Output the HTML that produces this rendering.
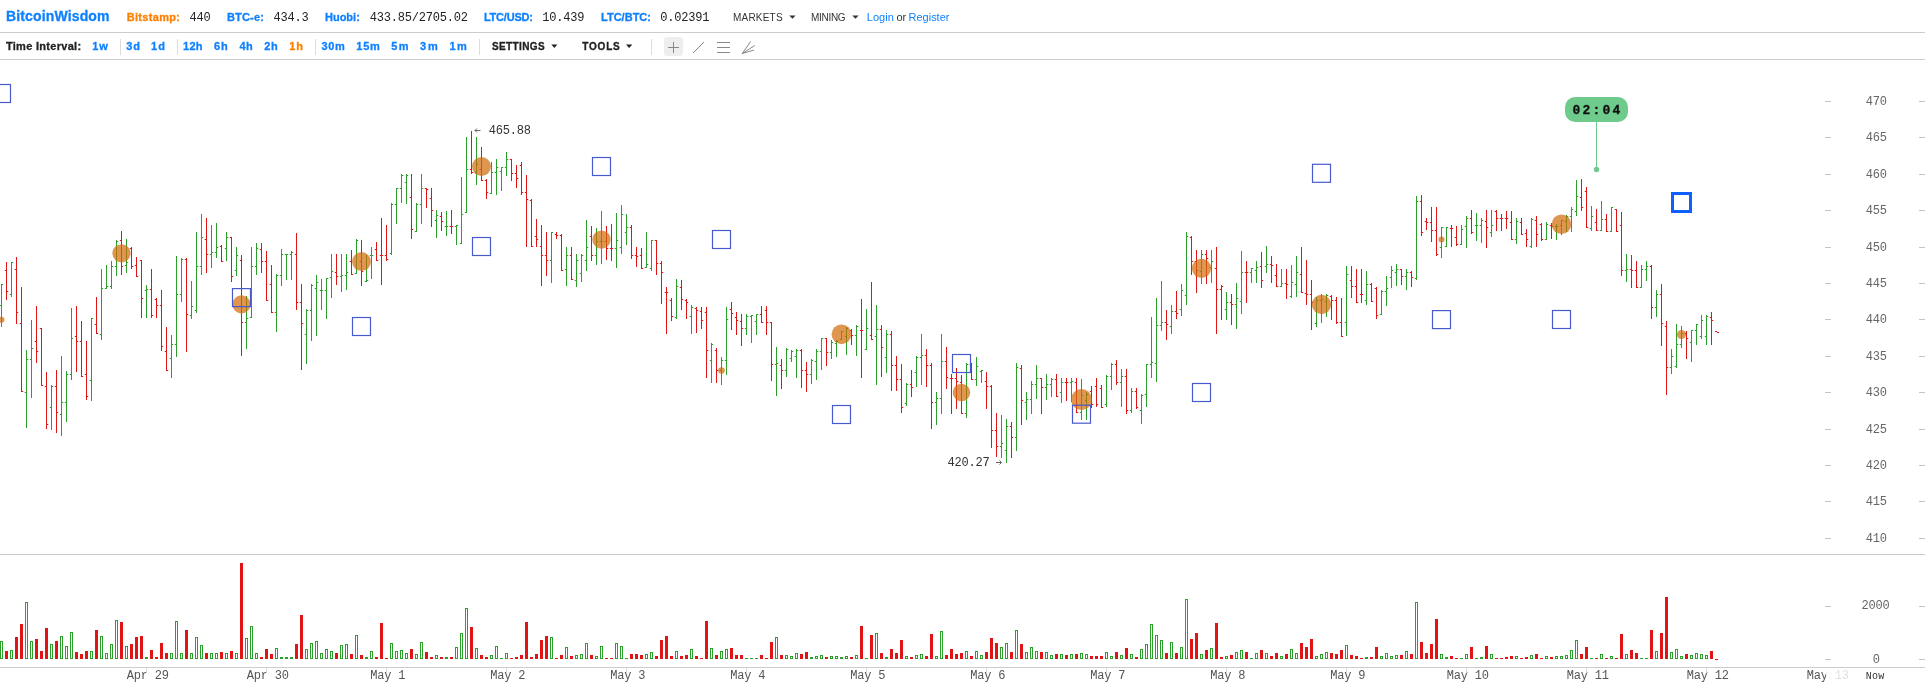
<!DOCTYPE html>
<html><head><meta charset="utf-8"><title>BitcoinWisdom</title>
<style>
html,body{margin:0;padding:0;background:#fff;}
body{width:1925px;height:684px;overflow:hidden;position:relative;font-family:"Liberation Sans",sans-serif;}
svg text{white-space:pre;}
</style></head><body>
<svg width="1925" height="684" viewBox="0 0 1925 684" style="position:absolute;left:0;top:0;display:block;will-change:transform" xml:space="preserve">
<text x="6" y="21" font-size="14" font-family="'Liberation Sans', sans-serif" fill="#0f80ff" font-weight="bold" stroke="#0f80ff" stroke-width="0.3" textLength="103.5" lengthAdjust="spacing">BitcoinWisdom</text>
<text x="126.7" y="21" font-size="11" font-family="'Liberation Sans', sans-serif" fill="#ff8000" font-weight="bold" stroke="#ff8000" stroke-width="0.3" textLength="53.3" lengthAdjust="spacing">Bitstamp:</text>
<text x="189.5" y="21" font-size="12" font-family="'Liberation Mono', monospace" fill="#222" letter-spacing="-0.2">440</text>
<text x="227.0" y="21" font-size="11" font-family="'Liberation Sans', sans-serif" fill="#0f80ff" font-weight="bold" stroke="#0f80ff" stroke-width="0.3" textLength="36.9" lengthAdjust="spacing">BTC-e:</text>
<text x="273.6" y="21" font-size="12" font-family="'Liberation Mono', monospace" fill="#222" letter-spacing="-0.2">434.3</text>
<text x="325.0" y="21" font-size="11" font-family="'Liberation Sans', sans-serif" fill="#0f80ff" font-weight="bold" stroke="#0f80ff" stroke-width="0.3" textLength="34.8" lengthAdjust="spacing">Huobi:</text>
<text x="369.7" y="21" font-size="12" font-family="'Liberation Mono', monospace" fill="#222" letter-spacing="-0.2">433.85/2705.02</text>
<text x="483.9" y="21" font-size="11" font-family="'Liberation Sans', sans-serif" fill="#0f80ff" font-weight="bold" stroke="#0f80ff" stroke-width="0.3" textLength="49.1" lengthAdjust="spacing">LTC/USD:</text>
<text x="542.2" y="21" font-size="12" font-family="'Liberation Mono', monospace" fill="#222" letter-spacing="-0.2">10.439</text>
<text x="601.0" y="21" font-size="11" font-family="'Liberation Sans', sans-serif" fill="#0f80ff" font-weight="bold" stroke="#0f80ff" stroke-width="0.3" textLength="50.0" lengthAdjust="spacing">LTC/BTC:</text>
<text x="660.3" y="21" font-size="12" font-family="'Liberation Mono', monospace" fill="#222" letter-spacing="-0.2">0.02391</text>
<text x="733.0" y="21" font-size="10" font-family="'Liberation Sans', sans-serif" fill="#333" textLength="49.6" lengthAdjust="spacing">MARKETS</text>
<text x="811.0" y="21" font-size="10" font-family="'Liberation Sans', sans-serif" fill="#333" textLength="34.6" lengthAdjust="spacing">MINING</text>
<path d="M789.3,15.5 L795.6,15.5 L792.45,18.8 Z" fill="#333"/>
<path d="M852.3,15.5 L858.6,15.5 L855.45,18.8 Z" fill="#333"/>
<text x="866.8" y="21" font-size="11" font-family="'Liberation Sans', sans-serif" fill="#0f80ff" textLength="27.0" lengthAdjust="spacing">Login</text>
<text x="896.4" y="21" font-size="11" font-family="'Liberation Sans', sans-serif" fill="#333" textLength="9.8" lengthAdjust="spacing">or</text>
<text x="908.6" y="21" font-size="11" font-family="'Liberation Sans', sans-serif" fill="#0f80ff" textLength="40.8" lengthAdjust="spacing">Register</text>
<rect x="0" y="32" width="1925" height="1" fill="#cccccc"/>
<text x="5.9" y="50" font-size="11" font-family="'Liberation Sans', sans-serif" fill="#222" font-weight="bold" stroke="#222" stroke-width="0.3" textLength="75.2" lengthAdjust="spacing">Time Interval:</text>
<text x="92.3" y="50" font-size="11" font-family="'Liberation Sans', sans-serif" fill="#0f80ff" font-weight="bold" stroke="#0f80ff" stroke-width="0.3" textLength="15.5" lengthAdjust="spacing">1w</text>
<text x="126.2" y="50" font-size="11" font-family="'Liberation Sans', sans-serif" fill="#0f80ff" font-weight="bold" stroke="#0f80ff" stroke-width="0.3" textLength="13.7" lengthAdjust="spacing">3d</text>
<text x="151.1" y="50" font-size="11" font-family="'Liberation Sans', sans-serif" fill="#0f80ff" font-weight="bold" stroke="#0f80ff" stroke-width="0.3" textLength="13.8" lengthAdjust="spacing">1d</text>
<text x="182.9" y="50" font-size="11" font-family="'Liberation Sans', sans-serif" fill="#0f80ff" font-weight="bold" stroke="#0f80ff" stroke-width="0.3" textLength="19.7" lengthAdjust="spacing">12h</text>
<text x="214.1" y="50" font-size="11" font-family="'Liberation Sans', sans-serif" fill="#0f80ff" font-weight="bold" stroke="#0f80ff" stroke-width="0.3" textLength="13.7" lengthAdjust="spacing">6h</text>
<text x="239.4" y="50" font-size="11" font-family="'Liberation Sans', sans-serif" fill="#0f80ff" font-weight="bold" stroke="#0f80ff" stroke-width="0.3" textLength="13.4" lengthAdjust="spacing">4h</text>
<text x="264.3" y="50" font-size="11" font-family="'Liberation Sans', sans-serif" fill="#0f80ff" font-weight="bold" stroke="#0f80ff" stroke-width="0.3" textLength="13.4" lengthAdjust="spacing">2h</text>
<text x="289.2" y="50" font-size="11" font-family="'Liberation Sans', sans-serif" fill="#ff8000" font-weight="bold" stroke="#ff8000" stroke-width="0.3" textLength="13.7" lengthAdjust="spacing">1h</text>
<text x="321.4" y="50" font-size="11" font-family="'Liberation Sans', sans-serif" fill="#0f80ff" font-weight="bold" stroke="#0f80ff" stroke-width="0.3" textLength="23.5" lengthAdjust="spacing">30m</text>
<text x="356.3" y="50" font-size="11" font-family="'Liberation Sans', sans-serif" fill="#0f80ff" font-weight="bold" stroke="#0f80ff" stroke-width="0.3" textLength="23.5" lengthAdjust="spacing">15m</text>
<text x="391.2" y="50" font-size="11" font-family="'Liberation Sans', sans-serif" fill="#0f80ff" font-weight="bold" stroke="#0f80ff" stroke-width="0.3" textLength="17.4" lengthAdjust="spacing">5m</text>
<text x="420.1" y="50" font-size="11" font-family="'Liberation Sans', sans-serif" fill="#0f80ff" font-weight="bold" stroke="#0f80ff" stroke-width="0.3" textLength="17.7" lengthAdjust="spacing">3m</text>
<text x="449.4" y="50" font-size="11" font-family="'Liberation Sans', sans-serif" fill="#0f80ff" font-weight="bold" stroke="#0f80ff" stroke-width="0.3" textLength="17.4" lengthAdjust="spacing">1m</text>
<rect x="120" y="39" width="1" height="16" fill="#dddddd"/>
<rect x="177" y="39" width="1" height="16" fill="#dddddd"/>
<rect x="315" y="39" width="1" height="16" fill="#dddddd"/>
<rect x="479" y="39" width="1" height="16" fill="#dddddd"/>
<rect x="651" y="39" width="1" height="16" fill="#dddddd"/>
<text x="492.0" y="50" font-size="10" font-family="'Liberation Sans', sans-serif" fill="#222" font-weight="bold" stroke="#222" stroke-width="0.3" textLength="52.6" lengthAdjust="spacing">SETTINGS</text>
<path d="M551.3,44.6 L557.4,44.6 L554.3499999999999,47.9 Z" fill="#222"/>
<text x="582.3" y="50" font-size="10" font-family="'Liberation Sans', sans-serif" fill="#222" font-weight="bold" stroke="#222" stroke-width="0.3" textLength="37.4" lengthAdjust="spacing">TOOLS</text>
<path d="M626.0,44.6 L632.3,44.6 L629.15,47.9 Z" fill="#222"/>
<rect x="664" y="37" width="19" height="19" rx="3" fill="#eeeeee"/>
<g stroke="#888" stroke-width="1" fill="none"><path d="M668,47.5 H679 M673.5,42 V53"/><path d="M693,53 L704,42"/><path d="M717,42.5 H730 M717,47.5 H730 M717,52.5 H730"/><path d="M742.2,53.6 L750.7,41.4 M742.2,53.6 L754.7,45.5 M742.2,53.6 L754,50"/></g>
<rect x="0" y="59" width="1925" height="1" fill="#cccccc"/>
<rect x="0" y="554" width="1925" height="1" fill="#cccccc"/>
<rect x="0" y="667" width="1925" height="1" fill="#cccccc"/>
<path shape-rendering="crispEdges" fill="#2a9f2a" d="M1,284h1v43h-1z M0,305h1v1h-1z M2,284h1v1h-1z M11,262h1v35h-1z M10,294h1v1h-1z M12,262h1v1h-1z M26,350h1v78h-1z M25,392h1v1h-1z M27,359h1v1h-1z M31,320h1v78h-1z M30,359h1v1h-1z M32,348h1v1h-1z M51,385h1v45h-1z M50,407h1v1h-1z M52,386h1v1h-1z M61,356h1v80h-1z M60,414h1v1h-1z M62,402h1v1h-1z M66,371h1v51h-1z M65,402h1v1h-1z M67,374h1v1h-1z M71,308h1v72h-1z M70,374h1v1h-1z M72,338h1v1h-1z M91,318h1v83h-1z M90,380h1v1h-1z M92,318h1v1h-1z M101,269h1v71h-1z M100,334h1v1h-1z M102,288h1v1h-1z M106,265h1v24h-1z M105,288h1v1h-1z M107,286h1v1h-1z M111,261h1v28h-1z M110,286h1v1h-1z M112,266h1v1h-1z M116,240h1v36h-1z M115,266h1v1h-1z M117,241h1v1h-1z M126,239h1v34h-1z M125,265h1v1h-1z M127,262h1v1h-1z M146,285h1v33h-1z M145,290h1v1h-1z M147,289h1v1h-1z M171,335h1v43h-1z M170,358h1v1h-1z M172,344h1v1h-1z M176,256h1v101h-1z M175,344h1v1h-1z M177,294h1v1h-1z M181,258h1v44h-1z M180,294h1v1h-1z M182,259h1v1h-1z M191,281h1v38h-1z M190,315h1v1h-1z M192,306h1v1h-1z M196,232h1v81h-1z M195,310h1v1h-1z M197,266h1v1h-1z M201,214h1v61h-1z M200,266h1v1h-1z M202,237h1v1h-1z M211,225h1v43h-1z M210,254h1v1h-1z M212,252h1v1h-1z M216,223h1v35h-1z M215,252h1v1h-1z M217,247h1v1h-1z M226,232h1v29h-1z M225,248h1v1h-1z M227,237h1v1h-1z M236,247h1v29h-1z M235,270h1v1h-1z M237,255h1v1h-1z M246,296h1v53h-1z M245,322h1v1h-1z M247,318h1v1h-1z M251,247h1v71h-1z M250,317h1v1h-1z M252,266h1v1h-1z M256,243h1v32h-1z M255,266h1v1h-1z M257,248h1v1h-1z M276,274h1v58h-1z M275,312h1v1h-1z M277,275h1v1h-1z M281,249h1v37h-1z M280,275h1v1h-1z M282,254h1v1h-1z M286,254h1v26h-1z M285,254h1v1h-1z M287,254h1v1h-1z M291,251h1v29h-1z M290,254h1v1h-1z M292,252h1v1h-1z M306,309h1v55h-1z M305,334h1v1h-1z M307,310h1v1h-1z M311,284h1v57h-1z M310,310h1v1h-1z M312,285h1v1h-1z M316,275h1v61h-1z M315,288h1v1h-1z M317,282h1v1h-1z M321,279h1v31h-1z M320,290h1v1h-1z M322,290h1v1h-1z M326,278h1v41h-1z M325,290h1v1h-1z M327,278h1v1h-1z M331,254h1v44h-1z M330,277h1v1h-1z M332,271h1v1h-1z M341,254h1v38h-1z M340,276h1v1h-1z M342,275h1v1h-1z M346,254h1v36h-1z M345,275h1v1h-1z M347,272h1v1h-1z M356,239h1v35h-1z M355,273h1v1h-1z M357,240h1v1h-1z M366,255h1v27h-1z M365,281h1v1h-1z M367,280h1v1h-1z M371,247h1v32h-1z M370,255h1v1h-1z M372,255h1v1h-1z M391,203h1v52h-1z M390,253h1v1h-1z M392,204h1v1h-1z M396,188h1v36h-1z M395,204h1v1h-1z M397,188h1v1h-1z M401,174h1v29h-1z M400,188h1v1h-1z M402,175h1v1h-1z M406,174h1v30h-1z M405,182h1v1h-1z M407,175h1v1h-1z M416,203h1v29h-1z M415,231h1v1h-1z M417,204h1v1h-1z M421,174h1v50h-1z M420,204h1v1h-1z M422,188h1v1h-1z M436,210h1v28h-1z M435,220h1v1h-1z M437,215h1v1h-1z M446,211h1v25h-1z M445,226h1v1h-1z M447,226h1v1h-1z M456,225h1v20h-1z M455,226h1v1h-1z M457,225h1v1h-1z M461,177h1v67h-1z M460,243h1v1h-1z M462,214h1v1h-1z M466,137h1v76h-1z M465,212h1v1h-1z M467,169h1v1h-1z M476,137h1v48h-1z M475,172h1v1h-1z M477,164h1v1h-1z M491,162h1v32h-1z M490,193h1v1h-1z M492,172h1v1h-1z M496,159h1v36h-1z M495,172h1v1h-1z M497,167h1v1h-1z M501,167h1v24h-1z M500,171h1v1h-1z M502,167h1v1h-1z M506,152h1v24h-1z M505,167h1v1h-1z M507,159h1v1h-1z M551,232h1v51h-1z M550,260h1v1h-1z M552,232h1v1h-1z M566,247h1v39h-1z M565,269h1v1h-1z M567,255h1v1h-1z M576,254h1v33h-1z M575,280h1v1h-1z M577,260h1v1h-1z M581,254h1v28h-1z M580,273h1v1h-1z M582,255h1v1h-1z M586,220h1v51h-1z M585,260h1v1h-1z M587,247h1v1h-1z M596,228h1v37h-1z M595,255h1v1h-1z M597,241h1v1h-1z M601,211h1v53h-1z M600,241h1v1h-1z M602,241h1v1h-1z M616,213h1v55h-1z M615,248h1v1h-1z M617,240h1v1h-1z M621,205h1v49h-1z M620,247h1v1h-1z M622,214h1v1h-1z M626,214h1v31h-1z M625,232h1v1h-1z M627,227h1v1h-1z M646,232h1v36h-1z M645,267h1v1h-1z M647,264h1v1h-1z M651,240h1v31h-1z M650,268h1v1h-1z M652,240h1v1h-1z M676,279h1v40h-1z M675,317h1v1h-1z M677,286h1v1h-1z M691,305h1v29h-1z M690,316h1v1h-1z M692,307h1v1h-1z M711,343h1v40h-1z M710,360h1v1h-1z M712,344h1v1h-1z M721,357h1v28h-1z M720,370h1v1h-1z M722,360h1v1h-1z M726,307h1v68h-1z M725,360h1v1h-1z M727,319h1v1h-1z M746,314h1v21h-1z M745,328h1v1h-1z M747,316h1v1h-1z M751,315h1v28h-1z M750,316h1v1h-1z M752,315h1v1h-1z M756,314h1v21h-1z M755,321h1v1h-1z M757,314h1v1h-1z M776,347h1v49h-1z M775,364h1v1h-1z M777,363h1v1h-1z M786,348h1v29h-1z M785,370h1v1h-1z M787,349h1v1h-1z M791,350h1v12h-1z M790,358h1v1h-1z M792,351h1v1h-1z M796,349h1v29h-1z M795,356h1v1h-1z M797,350h1v1h-1z M811,359h1v25h-1z M810,374h1v1h-1z M812,360h1v1h-1z M816,349h1v31h-1z M815,361h1v1h-1z M817,351h1v1h-1z M821,338h1v32h-1z M820,351h1v1h-1z M822,338h1v1h-1z M831,340h1v19h-1z M830,352h1v1h-1z M832,342h1v1h-1z M836,340h1v17h-1z M835,343h1v1h-1z M837,341h1v1h-1z M841,331h1v9h-1z M840,339h1v1h-1z M842,331h1v1h-1z M846,327h1v28h-1z M845,336h1v1h-1z M847,328h1v1h-1z M856,325h1v31h-1z M855,335h1v1h-1z M857,326h1v1h-1z M866,309h1v41h-1z M865,349h1v1h-1z M867,328h1v1h-1z M876,305h1v80h-1z M875,336h1v1h-1z M877,329h1v1h-1z M886,330h1v43h-1z M885,357h1v1h-1z M887,334h1v1h-1z M906,383h1v23h-1z M905,403h1v1h-1z M907,384h1v1h-1z M916,356h1v31h-1z M915,372h1v1h-1z M917,357h1v1h-1z M921,334h1v51h-1z M920,357h1v1h-1z M922,355h1v1h-1z M936,392h1v33h-1z M935,402h1v1h-1z M937,398h1v1h-1z M941,334h1v80h-1z M940,398h1v1h-1z M942,361h1v1h-1z M966,363h1v55h-1z M965,413h1v1h-1z M967,364h1v1h-1z M976,357h1v29h-1z M975,379h1v1h-1z M977,366h1v1h-1z M981,370h1v13h-1z M980,371h1v1h-1z M982,370h1v1h-1z M1001,415h1v43h-1z M1000,446h1v1h-1z M1002,443h1v1h-1z M1006,419h1v44h-1z M1005,450h1v1h-1z M1007,426h1v1h-1z M1016,363h1v88h-1z M1015,437h1v1h-1z M1017,367h1v1h-1z M1026,392h1v28h-1z M1025,402h1v1h-1z M1027,399h1v1h-1z M1031,381h1v33h-1z M1030,399h1v1h-1z M1032,384h1v1h-1z M1036,365h1v34h-1z M1035,384h1v1h-1z M1037,378h1v1h-1z M1046,374h1v26h-1z M1045,387h1v1h-1z M1047,384h1v1h-1z M1051,378h1v19h-1z M1050,384h1v1h-1z M1052,379h1v1h-1z M1061,378h1v25h-1z M1060,392h1v1h-1z M1062,382h1v1h-1z M1071,378h1v24h-1z M1070,382h1v1h-1z M1072,381h1v1h-1z M1081,379h1v41h-1z M1080,412h1v1h-1z M1082,395h1v1h-1z M1086,392h1v28h-1z M1085,400h1v1h-1z M1087,394h1v1h-1z M1106,375h1v32h-1z M1105,404h1v1h-1z M1107,376h1v1h-1z M1111,363h1v27h-1z M1110,376h1v1h-1z M1112,364h1v1h-1z M1121,369h1v38h-1z M1120,382h1v1h-1z M1122,376h1v1h-1z M1131,388h1v25h-1z M1130,410h1v1h-1z M1132,391h1v1h-1z M1141,394h1v30h-1z M1140,410h1v1h-1z M1142,395h1v1h-1z M1146,364h1v43h-1z M1145,394h1v1h-1z M1147,364h1v1h-1z M1151,317h1v61h-1z M1150,364h1v1h-1z M1152,362h1v1h-1z M1156,298h1v84h-1z M1155,363h1v1h-1z M1157,325h1v1h-1z M1161,281h1v50h-1z M1160,325h1v1h-1z M1162,322h1v1h-1z M1171,305h1v29h-1z M1170,326h1v1h-1z M1172,311h1v1h-1z M1181,284h1v32h-1z M1180,309h1v1h-1z M1182,290h1v1h-1z M1186,232h1v73h-1z M1185,295h1v1h-1z M1187,236h1v1h-1z M1201,250h1v34h-1z M1200,271h1v1h-1z M1202,254h1v1h-1z M1211,250h1v33h-1z M1210,267h1v1h-1z M1212,261h1v1h-1z M1226,292h1v28h-1z M1225,309h1v1h-1z M1227,302h1v1h-1z M1236,283h1v46h-1z M1235,304h1v1h-1z M1237,298h1v1h-1z M1241,251h1v63h-1z M1240,301h1v1h-1z M1242,272h1v1h-1z M1251,268h1v15h-1z M1250,272h1v1h-1z M1252,268h1v1h-1z M1256,261h1v22h-1z M1255,270h1v1h-1z M1257,267h1v1h-1z M1266,246h1v27h-1z M1265,266h1v1h-1z M1267,264h1v1h-1z M1281,269h1v18h-1z M1280,286h1v1h-1z M1282,283h1v1h-1z M1291,265h1v33h-1z M1290,296h1v1h-1z M1292,282h1v1h-1z M1296,256h1v41h-1z M1295,284h1v1h-1z M1297,272h1v1h-1z M1316,297h1v30h-1z M1315,323h1v1h-1z M1317,300h1v1h-1z M1321,294h1v29h-1z M1320,300h1v1h-1z M1322,299h1v1h-1z M1326,294h1v23h-1z M1325,301h1v1h-1z M1327,295h1v1h-1z M1346,266h1v70h-1z M1345,322h1v1h-1z M1347,274h1v1h-1z M1366,271h1v34h-1z M1365,300h1v1h-1z M1367,284h1v1h-1z M1381,290h1v25h-1z M1380,314h1v1h-1z M1382,291h1v1h-1z M1386,276h1v30h-1z M1385,291h1v1h-1z M1387,288h1v1h-1z M1391,266h1v22h-1z M1390,277h1v1h-1z M1392,270h1v1h-1z M1396,264h1v22h-1z M1395,272h1v1h-1z M1397,269h1v1h-1z M1406,269h1v21h-1z M1405,276h1v1h-1z M1407,272h1v1h-1z M1416,196h1v84h-1z M1415,278h1v1h-1z M1417,201h1v1h-1z M1441,227h1v31h-1z M1440,247h1v1h-1z M1442,227h1v1h-1z M1446,227h1v20h-1z M1445,246h1v1h-1z M1447,227h1v1h-1z M1461,225h1v20h-1z M1460,244h1v1h-1z M1462,229h1v1h-1z M1466,216h1v32h-1z M1465,226h1v1h-1z M1467,218h1v1h-1z M1476,213h1v28h-1z M1475,225h1v1h-1z M1477,225h1v1h-1z M1481,218h1v25h-1z M1480,225h1v1h-1z M1482,220h1v1h-1z M1491,210h1v27h-1z M1490,232h1v1h-1z M1492,225h1v1h-1z M1516,218h1v26h-1z M1515,239h1v1h-1z M1517,221h1v1h-1z M1531,218h1v30h-1z M1530,246h1v1h-1z M1532,219h1v1h-1z M1546,222h1v18h-1z M1545,239h1v1h-1z M1547,224h1v1h-1z M1556,224h1v16h-1z M1555,226h1v1h-1z M1557,226h1v1h-1z M1561,220h1v15h-1z M1560,225h1v1h-1z M1562,220h1v1h-1z M1566,215h1v17h-1z M1565,221h1v1h-1z M1567,216h1v1h-1z M1571,207h1v25h-1z M1570,216h1v1h-1z M1572,209h1v1h-1z M1576,180h1v36h-1z M1575,211h1v1h-1z M1577,196h1v1h-1z M1591,206h1v25h-1z M1590,228h1v1h-1z M1592,216h1v1h-1z M1601,201h1v30h-1z M1600,230h1v1h-1z M1602,219h1v1h-1z M1611,207h1v25h-1z M1610,231h1v1h-1z M1612,207h1v1h-1z M1626,254h1v28h-1z M1625,270h1v1h-1z M1627,269h1v1h-1z M1641,265h1v23h-1z M1640,287h1v1h-1z M1642,269h1v1h-1z M1646,261h1v20h-1z M1645,269h1v1h-1z M1647,266h1v1h-1z M1656,290h1v27h-1z M1655,307h1v1h-1z M1657,294h1v1h-1z M1671,349h1v25h-1z M1670,367h1v1h-1z M1672,356h1v1h-1z M1676,324h1v44h-1z M1675,366h1v1h-1z M1677,344h1v1h-1z M1681,326h1v22h-1z M1680,344h1v1h-1z M1682,333h1v1h-1z M1691,330h1v32h-1z M1690,342h1v1h-1z M1692,330h1v1h-1z M1696,324h1v21h-1z M1695,330h1v1h-1z M1697,324h1v1h-1z M1701,315h1v24h-1z M1700,336h1v1h-1z M1702,320h1v1h-1z M1706,315h1v30h-1z M1705,336h1v1h-1z M1707,316h1v1h-1z"/>
<path shape-rendering="crispEdges" fill="#2a9f2a" fill-opacity="0.22" d="M-1,305h1v1h-1z M3,284h1v1h-1z M9,294h1v1h-1z M13,262h1v1h-1z M24,392h1v1h-1z M28,359h1v1h-1z M29,359h1v1h-1z M33,348h1v1h-1z M49,407h1v1h-1z M53,386h1v1h-1z M59,414h1v1h-1z M63,402h1v1h-1z M64,402h1v1h-1z M68,374h1v1h-1z M69,374h1v1h-1z M73,338h1v1h-1z M89,380h1v1h-1z M93,318h1v1h-1z M99,334h1v1h-1z M103,288h1v1h-1z M104,288h1v1h-1z M108,286h1v1h-1z M109,286h1v1h-1z M113,266h1v1h-1z M114,266h1v1h-1z M118,241h1v1h-1z M124,265h1v1h-1z M128,262h1v1h-1z M144,290h1v1h-1z M148,289h1v1h-1z M169,358h1v1h-1z M173,344h1v1h-1z M174,344h1v1h-1z M178,294h1v1h-1z M179,294h1v1h-1z M183,259h1v1h-1z M189,315h1v1h-1z M193,306h1v1h-1z M194,310h1v1h-1z M198,266h1v1h-1z M199,266h1v1h-1z M203,237h1v1h-1z M209,254h1v1h-1z M213,252h1v1h-1z M214,252h1v1h-1z M218,247h1v1h-1z M224,248h1v1h-1z M228,237h1v1h-1z M234,270h1v1h-1z M238,255h1v1h-1z M244,322h1v1h-1z M248,318h1v1h-1z M249,317h1v1h-1z M253,266h1v1h-1z M254,266h1v1h-1z M258,248h1v1h-1z M274,312h1v1h-1z M278,275h1v1h-1z M279,275h1v1h-1z M283,254h1v1h-1z M284,254h1v1h-1z M288,254h1v1h-1z M289,254h1v1h-1z M293,252h1v1h-1z M304,334h1v1h-1z M308,310h1v1h-1z M309,310h1v1h-1z M313,285h1v1h-1z M314,288h1v1h-1z M318,282h1v1h-1z M319,290h1v1h-1z M323,290h1v1h-1z M324,290h1v1h-1z M328,278h1v1h-1z M329,277h1v1h-1z M333,271h1v1h-1z M339,276h1v1h-1z M343,275h1v1h-1z M344,275h1v1h-1z M348,272h1v1h-1z M354,273h1v1h-1z M358,240h1v1h-1z M364,281h1v1h-1z M368,280h1v1h-1z M369,255h1v1h-1z M373,255h1v1h-1z M389,253h1v1h-1z M393,204h1v1h-1z M394,204h1v1h-1z M398,188h1v1h-1z M399,188h1v1h-1z M403,175h1v1h-1z M404,182h1v1h-1z M408,175h1v1h-1z M414,231h1v1h-1z M418,204h1v1h-1z M419,204h1v1h-1z M423,188h1v1h-1z M434,220h1v1h-1z M438,215h1v1h-1z M444,226h1v1h-1z M448,226h1v1h-1z M454,226h1v1h-1z M458,225h1v1h-1z M459,243h1v1h-1z M463,214h1v1h-1z M464,212h1v1h-1z M468,169h1v1h-1z M474,172h1v1h-1z M478,164h1v1h-1z M489,193h1v1h-1z M493,172h1v1h-1z M494,172h1v1h-1z M498,167h1v1h-1z M499,171h1v1h-1z M503,167h1v1h-1z M504,167h1v1h-1z M508,159h1v1h-1z M549,260h1v1h-1z M553,232h1v1h-1z M564,269h1v1h-1z M568,255h1v1h-1z M574,280h1v1h-1z M578,260h1v1h-1z M579,273h1v1h-1z M583,255h1v1h-1z M584,260h1v1h-1z M588,247h1v1h-1z M594,255h1v1h-1z M598,241h1v1h-1z M599,241h1v1h-1z M603,241h1v1h-1z M614,248h1v1h-1z M618,240h1v1h-1z M619,247h1v1h-1z M623,214h1v1h-1z M624,232h1v1h-1z M628,227h1v1h-1z M644,267h1v1h-1z M648,264h1v1h-1z M649,268h1v1h-1z M653,240h1v1h-1z M674,317h1v1h-1z M678,286h1v1h-1z M689,316h1v1h-1z M693,307h1v1h-1z M709,360h1v1h-1z M713,344h1v1h-1z M719,370h1v1h-1z M723,360h1v1h-1z M724,360h1v1h-1z M728,319h1v1h-1z M744,328h1v1h-1z M748,316h1v1h-1z M749,316h1v1h-1z M753,315h1v1h-1z M754,321h1v1h-1z M758,314h1v1h-1z M774,364h1v1h-1z M778,363h1v1h-1z M784,370h1v1h-1z M788,349h1v1h-1z M789,358h1v1h-1z M793,351h1v1h-1z M794,356h1v1h-1z M798,350h1v1h-1z M809,374h1v1h-1z M813,360h1v1h-1z M814,361h1v1h-1z M818,351h1v1h-1z M819,351h1v1h-1z M823,338h1v1h-1z M829,352h1v1h-1z M833,342h1v1h-1z M834,343h1v1h-1z M838,341h1v1h-1z M839,339h1v1h-1z M843,331h1v1h-1z M844,336h1v1h-1z M848,328h1v1h-1z M854,335h1v1h-1z M858,326h1v1h-1z M864,349h1v1h-1z M868,328h1v1h-1z M874,336h1v1h-1z M878,329h1v1h-1z M884,357h1v1h-1z M888,334h1v1h-1z M904,403h1v1h-1z M908,384h1v1h-1z M914,372h1v1h-1z M918,357h1v1h-1z M919,357h1v1h-1z M923,355h1v1h-1z M934,402h1v1h-1z M938,398h1v1h-1z M939,398h1v1h-1z M943,361h1v1h-1z M964,413h1v1h-1z M968,364h1v1h-1z M974,379h1v1h-1z M978,366h1v1h-1z M979,371h1v1h-1z M983,370h1v1h-1z M999,446h1v1h-1z M1003,443h1v1h-1z M1004,450h1v1h-1z M1008,426h1v1h-1z M1014,437h1v1h-1z M1018,367h1v1h-1z M1024,402h1v1h-1z M1028,399h1v1h-1z M1029,399h1v1h-1z M1033,384h1v1h-1z M1034,384h1v1h-1z M1038,378h1v1h-1z M1044,387h1v1h-1z M1048,384h1v1h-1z M1049,384h1v1h-1z M1053,379h1v1h-1z M1059,392h1v1h-1z M1063,382h1v1h-1z M1069,382h1v1h-1z M1073,381h1v1h-1z M1079,412h1v1h-1z M1083,395h1v1h-1z M1084,400h1v1h-1z M1088,394h1v1h-1z M1104,404h1v1h-1z M1108,376h1v1h-1z M1109,376h1v1h-1z M1113,364h1v1h-1z M1119,382h1v1h-1z M1123,376h1v1h-1z M1129,410h1v1h-1z M1133,391h1v1h-1z M1139,410h1v1h-1z M1143,395h1v1h-1z M1144,394h1v1h-1z M1148,364h1v1h-1z M1149,364h1v1h-1z M1153,362h1v1h-1z M1154,363h1v1h-1z M1158,325h1v1h-1z M1159,325h1v1h-1z M1163,322h1v1h-1z M1169,326h1v1h-1z M1173,311h1v1h-1z M1179,309h1v1h-1z M1183,290h1v1h-1z M1184,295h1v1h-1z M1188,236h1v1h-1z M1199,271h1v1h-1z M1203,254h1v1h-1z M1209,267h1v1h-1z M1213,261h1v1h-1z M1224,309h1v1h-1z M1228,302h1v1h-1z M1234,304h1v1h-1z M1238,298h1v1h-1z M1239,301h1v1h-1z M1243,272h1v1h-1z M1249,272h1v1h-1z M1253,268h1v1h-1z M1254,270h1v1h-1z M1258,267h1v1h-1z M1264,266h1v1h-1z M1268,264h1v1h-1z M1279,286h1v1h-1z M1283,283h1v1h-1z M1289,296h1v1h-1z M1293,282h1v1h-1z M1294,284h1v1h-1z M1298,272h1v1h-1z M1314,323h1v1h-1z M1318,300h1v1h-1z M1319,300h1v1h-1z M1323,299h1v1h-1z M1324,301h1v1h-1z M1328,295h1v1h-1z M1344,322h1v1h-1z M1348,274h1v1h-1z M1364,300h1v1h-1z M1368,284h1v1h-1z M1379,314h1v1h-1z M1383,291h1v1h-1z M1384,291h1v1h-1z M1388,288h1v1h-1z M1389,277h1v1h-1z M1393,270h1v1h-1z M1394,272h1v1h-1z M1398,269h1v1h-1z M1404,276h1v1h-1z M1408,272h1v1h-1z M1414,278h1v1h-1z M1418,201h1v1h-1z M1439,247h1v1h-1z M1443,227h1v1h-1z M1444,246h1v1h-1z M1448,227h1v1h-1z M1459,244h1v1h-1z M1463,229h1v1h-1z M1464,226h1v1h-1z M1468,218h1v1h-1z M1474,225h1v1h-1z M1478,225h1v1h-1z M1479,225h1v1h-1z M1483,220h1v1h-1z M1489,232h1v1h-1z M1493,225h1v1h-1z M1514,239h1v1h-1z M1518,221h1v1h-1z M1529,246h1v1h-1z M1533,219h1v1h-1z M1544,239h1v1h-1z M1548,224h1v1h-1z M1554,226h1v1h-1z M1558,226h1v1h-1z M1559,225h1v1h-1z M1563,220h1v1h-1z M1564,221h1v1h-1z M1568,216h1v1h-1z M1569,216h1v1h-1z M1573,209h1v1h-1z M1574,211h1v1h-1z M1578,196h1v1h-1z M1589,228h1v1h-1z M1593,216h1v1h-1z M1599,230h1v1h-1z M1603,219h1v1h-1z M1609,231h1v1h-1z M1613,207h1v1h-1z M1624,270h1v1h-1z M1628,269h1v1h-1z M1639,287h1v1h-1z M1643,269h1v1h-1z M1644,269h1v1h-1z M1648,266h1v1h-1z M1654,307h1v1h-1z M1658,294h1v1h-1z M1669,367h1v1h-1z M1673,356h1v1h-1z M1674,366h1v1h-1z M1678,344h1v1h-1z M1679,344h1v1h-1z M1683,333h1v1h-1z M1689,342h1v1h-1z M1693,330h1v1h-1z M1694,330h1v1h-1z M1698,324h1v1h-1z M1699,336h1v1h-1z M1703,320h1v1h-1z M1704,336h1v1h-1z M1708,316h1v1h-1z"/>
<path shape-rendering="crispEdges" fill="#e01414" d="M6,262h1v38h-1z M5,270h1v1h-1z M7,291h1v1h-1z M16,257h1v67h-1z M15,269h1v1h-1z M17,312h1v1h-1z M21,287h1v105h-1z M20,323h1v1h-1z M22,391h1v1h-1z M36,306h1v57h-1z M35,341h1v1h-1z M37,351h1v1h-1z M41,328h1v58h-1z M40,328h1v1h-1z M42,385h1v1h-1z M46,372h1v57h-1z M45,386h1v1h-1z M47,424h1v1h-1z M56,370h1v63h-1z M55,386h1v1h-1z M57,412h1v1h-1z M76,306h1v66h-1z M75,336h1v1h-1z M77,341h1v1h-1z M81,321h1v56h-1z M80,341h1v1h-1z M82,376h1v1h-1z M86,341h1v59h-1z M85,374h1v1h-1z M87,396h1v1h-1z M96,297h1v37h-1z M95,324h1v1h-1z M97,333h1v1h-1z M121,231h1v44h-1z M120,240h1v1h-1z M122,266h1v1h-1z M131,247h1v22h-1z M130,248h1v1h-1z M132,266h1v1h-1z M136,257h1v20h-1z M135,265h1v1h-1z M137,276h1v1h-1z M141,260h1v58h-1z M140,260h1v1h-1z M142,298h1v1h-1z M151,269h1v49h-1z M150,289h1v1h-1z M152,315h1v1h-1z M156,298h1v20h-1z M155,299h1v1h-1z M157,305h1v1h-1z M161,290h1v61h-1z M160,305h1v1h-1z M162,346h1v1h-1z M166,327h1v44h-1z M165,351h1v1h-1z M167,370h1v1h-1z M186,258h1v94h-1z M185,259h1v1h-1z M187,314h1v1h-1z M206,218h1v55h-1z M205,239h1v1h-1z M207,254h1v1h-1z M221,245h1v17h-1z M220,246h1v1h-1z M222,261h1v1h-1z M231,237h1v45h-1z M230,237h1v1h-1z M232,276h1v1h-1z M241,255h1v101h-1z M240,260h1v1h-1z M242,322h1v1h-1z M261,243h1v30h-1z M260,249h1v1h-1z M262,261h1v1h-1z M266,251h1v50h-1z M265,261h1v1h-1z M267,300h1v1h-1z M271,265h1v48h-1z M270,284h1v1h-1z M272,312h1v1h-1z M296,233h1v77h-1z M295,254h1v1h-1z M297,302h1v1h-1z M301,284h1v86h-1z M300,302h1v1h-1z M302,323h1v1h-1z M336,254h1v31h-1z M335,272h1v1h-1z M337,276h1v1h-1z M351,250h1v25h-1z M350,261h1v1h-1z M352,274h1v1h-1z M361,240h1v46h-1z M360,261h1v1h-1z M362,271h1v1h-1z M376,242h1v19h-1z M375,249h1v1h-1z M377,260h1v1h-1z M381,218h1v67h-1z M380,255h1v1h-1z M382,255h1v1h-1z M386,225h1v36h-1z M385,255h1v1h-1z M387,259h1v1h-1z M411,174h1v65h-1z M410,197h1v1h-1z M412,229h1v1h-1z M426,188h1v20h-1z M425,188h1v1h-1z M427,189h1v1h-1z M431,188h1v39h-1z M430,198h1v1h-1z M432,210h1v1h-1z M441,212h1v19h-1z M440,216h1v1h-1z M442,221h1v1h-1z M451,210h1v24h-1z M450,226h1v1h-1z M452,226h1v1h-1z M471,131h1v43h-1z M470,169h1v1h-1z M472,172h1v1h-1z M481,147h1v34h-1z M480,169h1v1h-1z M482,180h1v1h-1z M486,179h1v20h-1z M485,180h1v1h-1z M487,192h1v1h-1z M511,159h1v22h-1z M510,159h1v1h-1z M512,173h1v1h-1z M516,165h1v23h-1z M515,173h1v1h-1z M517,178h1v1h-1z M521,162h1v33h-1z M520,165h1v1h-1z M522,192h1v1h-1z M526,175h1v72h-1z M525,192h1v1h-1z M527,199h1v1h-1z M531,199h1v48h-1z M530,200h1v1h-1z M532,246h1v1h-1z M536,219h1v28h-1z M535,236h1v1h-1z M537,239h1v1h-1z M541,225h1v61h-1z M540,246h1v1h-1z M542,255h1v1h-1z M546,232h1v44h-1z M545,255h1v1h-1z M547,260h1v1h-1z M556,232h1v7h-1z M555,234h1v1h-1z M557,235h1v1h-1z M561,234h1v37h-1z M560,235h1v1h-1z M562,270h1v1h-1z M571,247h1v33h-1z M570,255h1v1h-1z M572,279h1v1h-1z M591,226h1v35h-1z M590,236h1v1h-1z M592,255h1v1h-1z M606,226h1v34h-1z M605,241h1v1h-1z M607,248h1v1h-1z M611,224h1v37h-1z M610,248h1v1h-1z M612,248h1v1h-1z M631,225h1v34h-1z M630,227h1v1h-1z M632,255h1v1h-1z M636,247h1v20h-1z M635,255h1v1h-1z M637,256h1v1h-1z M641,248h1v21h-1z M640,255h1v1h-1z M642,268h1v1h-1z M656,240h1v35h-1z M655,240h1v1h-1z M657,263h1v1h-1z M661,261h1v43h-1z M660,263h1v1h-1z M662,272h1v1h-1z M666,287h1v47h-1z M665,292h1v1h-1z M667,292h1v1h-1z M671,298h1v23h-1z M670,300h1v1h-1z M672,316h1v1h-1z M681,280h1v30h-1z M680,287h1v1h-1z M682,299h1v1h-1z M686,299h1v20h-1z M685,300h1v1h-1z M687,302h1v1h-1z M696,307h1v26h-1z M695,308h1v1h-1z M697,310h1v1h-1z M701,307h1v22h-1z M700,311h1v1h-1z M702,320h1v1h-1z M706,307h1v71h-1z M705,312h1v1h-1z M707,350h1v1h-1z M716,348h1v35h-1z M715,350h1v1h-1z M717,370h1v1h-1z M731,302h1v28h-1z M730,309h1v1h-1z M732,313h1v1h-1z M736,312h1v23h-1z M735,317h1v1h-1z M737,320h1v1h-1z M741,314h1v32h-1z M740,321h1v1h-1z M742,328h1v1h-1z M761,306h1v17h-1z M760,314h1v1h-1z M762,322h1v1h-1z M766,306h1v29h-1z M765,310h1v1h-1z M767,322h1v1h-1z M771,322h1v59h-1z M770,322h1v1h-1z M772,364h1v1h-1z M781,359h1v30h-1z M780,365h1v1h-1z M782,370h1v1h-1z M801,349h1v39h-1z M800,350h1v1h-1z M802,370h1v1h-1z M806,362h1v30h-1z M805,370h1v1h-1z M807,374h1v1h-1z M826,338h1v28h-1z M825,338h1v1h-1z M827,352h1v1h-1z M851,329h1v16h-1z M850,330h1v1h-1z M852,335h1v1h-1z M861,299h1v79h-1z M860,330h1v1h-1z M862,330h1v1h-1z M871,282h1v58h-1z M870,335h1v1h-1z M872,339h1v1h-1z M881,325h1v52h-1z M880,329h1v1h-1z M882,347h1v1h-1z M891,331h1v60h-1z M890,334h1v1h-1z M892,365h1v1h-1z M896,356h1v35h-1z M895,365h1v1h-1z M897,379h1v1h-1z M901,364h1v49h-1z M900,379h1v1h-1z M902,407h1v1h-1z M911,370h1v27h-1z M910,384h1v1h-1z M912,387h1v1h-1z M926,349h1v38h-1z M925,355h1v1h-1z M927,365h1v1h-1z M931,363h1v66h-1z M930,365h1v1h-1z M932,402h1v1h-1z M946,347h1v42h-1z M945,361h1v1h-1z M947,377h1v1h-1z M951,374h1v40h-1z M950,378h1v1h-1z M952,378h1v1h-1z M956,368h1v41h-1z M955,378h1v1h-1z M957,381h1v1h-1z M961,375h1v39h-1z M960,382h1v1h-1z M962,413h1v1h-1z M971,363h1v17h-1z M970,364h1v1h-1z M972,379h1v1h-1z M986,372h1v37h-1z M985,381h1v1h-1z M987,386h1v1h-1z M991,385h1v63h-1z M990,386h1v1h-1z M992,430h1v1h-1z M996,413h1v44h-1z M995,430h1v1h-1z M997,446h1v1h-1z M1011,422h1v36h-1z M1010,426h1v1h-1z M1012,437h1v1h-1z M1021,365h1v60h-1z M1020,368h1v1h-1z M1022,400h1v1h-1z M1041,378h1v36h-1z M1040,378h1v1h-1z M1042,387h1v1h-1z M1056,374h1v23h-1z M1055,379h1v1h-1z M1057,396h1v1h-1z M1066,378h1v23h-1z M1065,382h1v1h-1z M1067,382h1v1h-1z M1076,378h1v35h-1z M1075,382h1v1h-1z M1077,412h1v1h-1z M1091,386h1v22h-1z M1090,391h1v1h-1z M1092,404h1v1h-1z M1096,378h1v29h-1z M1095,386h1v1h-1z M1097,404h1v1h-1z M1101,385h1v23h-1z M1100,388h1v1h-1z M1102,407h1v1h-1z M1116,360h1v25h-1z M1115,364h1v1h-1z M1117,382h1v1h-1z M1126,369h1v45h-1z M1125,376h1v1h-1z M1127,410h1v1h-1z M1136,388h1v21h-1z M1135,391h1v1h-1z M1137,407h1v1h-1z M1166,310h1v30h-1z M1165,322h1v1h-1z M1167,324h1v1h-1z M1176,291h1v28h-1z M1175,311h1v1h-1z M1177,313h1v1h-1z M1191,236h1v39h-1z M1190,237h1v1h-1z M1192,261h1v1h-1z M1196,250h1v43h-1z M1195,261h1v1h-1z M1197,270h1v1h-1z M1206,250h1v34h-1z M1205,254h1v1h-1z M1207,258h1v1h-1z M1216,247h1v87h-1z M1215,268h1v1h-1z M1217,289h1v1h-1z M1221,285h1v35h-1z M1220,289h1v1h-1z M1222,286h1v1h-1z M1231,294h1v31h-1z M1230,302h1v1h-1z M1232,304h1v1h-1z M1246,261h1v42h-1z M1245,272h1v1h-1z M1247,272h1v1h-1z M1261,252h1v36h-1z M1260,266h1v1h-1z M1262,280h1v1h-1z M1271,256h1v27h-1z M1270,264h1v1h-1z M1272,265h1v1h-1z M1276,264h1v23h-1z M1275,275h1v1h-1z M1277,286h1v1h-1z M1286,269h1v30h-1z M1285,283h1v1h-1z M1287,284h1v1h-1z M1301,247h1v46h-1z M1300,274h1v1h-1z M1302,292h1v1h-1z M1306,260h1v45h-1z M1305,293h1v1h-1z M1307,294h1v1h-1z M1311,280h1v50h-1z M1310,294h1v1h-1z M1312,302h1v1h-1z M1331,295h1v25h-1z M1330,296h1v1h-1z M1332,300h1v1h-1z M1336,297h1v27h-1z M1335,300h1v1h-1z M1337,322h1v1h-1z M1341,298h1v39h-1z M1340,322h1v1h-1z M1342,336h1v1h-1z M1351,266h1v32h-1z M1350,280h1v1h-1z M1352,286h1v1h-1z M1356,269h1v34h-1z M1355,286h1v1h-1z M1357,302h1v1h-1z M1361,269h1v34h-1z M1360,294h1v1h-1z M1362,294h1v1h-1z M1371,283h1v19h-1z M1370,284h1v1h-1z M1372,301h1v1h-1z M1376,287h1v32h-1z M1375,288h1v1h-1z M1377,315h1v1h-1z M1401,269h1v16h-1z M1400,269h1v1h-1z M1402,276h1v1h-1z M1411,271h1v16h-1z M1410,272h1v1h-1z M1412,277h1v1h-1z M1421,195h1v41h-1z M1420,201h1v1h-1z M1422,232h1v1h-1z M1426,218h1v12h-1z M1425,221h1v1h-1z M1427,222h1v1h-1z M1431,207h1v35h-1z M1430,222h1v1h-1z M1432,230h1v1h-1z M1436,207h1v49h-1z M1435,230h1v1h-1z M1437,254h1v1h-1z M1451,225h1v22h-1z M1450,228h1v1h-1z M1452,228h1v1h-1z M1456,226h1v20h-1z M1455,237h1v1h-1z M1457,244h1v1h-1z M1471,210h1v24h-1z M1470,218h1v1h-1z M1472,232h1v1h-1z M1486,210h1v38h-1z M1485,221h1v1h-1z M1487,227h1v1h-1z M1496,210h1v21h-1z M1495,211h1v1h-1z M1497,218h1v1h-1z M1501,214h1v17h-1z M1500,218h1v1h-1z M1502,218h1v1h-1z M1506,211h1v18h-1z M1505,218h1v1h-1z M1507,218h1v1h-1z M1511,211h1v29h-1z M1510,222h1v1h-1z M1512,239h1v1h-1z M1521,218h1v17h-1z M1520,222h1v1h-1z M1522,234h1v1h-1z M1526,229h1v18h-1z M1525,233h1v1h-1z M1527,239h1v1h-1z M1536,216h1v31h-1z M1535,220h1v1h-1z M1537,234h1v1h-1z M1541,223h1v18h-1z M1540,224h1v1h-1z M1542,239h1v1h-1z M1551,223h1v16h-1z M1550,225h1v1h-1z M1552,226h1v1h-1z M1581,179h1v32h-1z M1580,197h1v1h-1z M1582,207h1v1h-1z M1586,187h1v41h-1z M1585,191h1v1h-1z M1587,227h1v1h-1z M1596,209h1v22h-1z M1595,222h1v1h-1z M1597,230h1v1h-1z M1606,214h1v18h-1z M1605,219h1v1h-1z M1607,231h1v1h-1z M1616,209h1v23h-1z M1615,209h1v1h-1z M1617,231h1v1h-1z M1621,212h1v64h-1z M1620,225h1v1h-1z M1622,270h1v1h-1z M1631,255h1v33h-1z M1630,269h1v1h-1z M1632,270h1v1h-1z M1636,261h1v27h-1z M1635,270h1v1h-1z M1637,287h1v1h-1z M1651,265h1v54h-1z M1650,266h1v1h-1z M1652,307h1v1h-1z M1661,284h1v62h-1z M1660,294h1v1h-1z M1662,323h1v1h-1z M1666,321h1v74h-1z M1665,326h1v1h-1z M1667,367h1v1h-1z M1686,331h1v28h-1z M1685,333h1v1h-1z M1687,338h1v1h-1z M1711,312h1v33h-1z M1710,317h1v1h-1z M1712,320h1v1h-1z M1715,331h2v1h-2z M1717,332h2v1h-2z"/>
<path shape-rendering="crispEdges" fill="#e01414" fill-opacity="0.22" d="M4,270h1v1h-1z M8,291h1v1h-1z M14,269h1v1h-1z M18,312h1v1h-1z M19,323h1v1h-1z M23,391h1v1h-1z M34,341h1v1h-1z M38,351h1v1h-1z M39,328h1v1h-1z M43,385h1v1h-1z M44,386h1v1h-1z M48,424h1v1h-1z M54,386h1v1h-1z M58,412h1v1h-1z M74,336h1v1h-1z M78,341h1v1h-1z M79,341h1v1h-1z M83,376h1v1h-1z M84,374h1v1h-1z M88,396h1v1h-1z M94,324h1v1h-1z M98,333h1v1h-1z M119,240h1v1h-1z M123,266h1v1h-1z M129,248h1v1h-1z M133,266h1v1h-1z M134,265h1v1h-1z M138,276h1v1h-1z M139,260h1v1h-1z M143,298h1v1h-1z M149,289h1v1h-1z M153,315h1v1h-1z M154,299h1v1h-1z M158,305h1v1h-1z M159,305h1v1h-1z M163,346h1v1h-1z M164,351h1v1h-1z M168,370h1v1h-1z M184,259h1v1h-1z M188,314h1v1h-1z M204,239h1v1h-1z M208,254h1v1h-1z M219,246h1v1h-1z M223,261h1v1h-1z M229,237h1v1h-1z M233,276h1v1h-1z M239,260h1v1h-1z M243,322h1v1h-1z M259,249h1v1h-1z M263,261h1v1h-1z M264,261h1v1h-1z M268,300h1v1h-1z M269,284h1v1h-1z M273,312h1v1h-1z M294,254h1v1h-1z M298,302h1v1h-1z M299,302h1v1h-1z M303,323h1v1h-1z M334,272h1v1h-1z M338,276h1v1h-1z M349,261h1v1h-1z M353,274h1v1h-1z M359,261h1v1h-1z M363,271h1v1h-1z M374,249h1v1h-1z M378,260h1v1h-1z M379,255h1v1h-1z M383,255h1v1h-1z M384,255h1v1h-1z M388,259h1v1h-1z M409,197h1v1h-1z M413,229h1v1h-1z M424,188h1v1h-1z M428,189h1v1h-1z M429,198h1v1h-1z M433,210h1v1h-1z M439,216h1v1h-1z M443,221h1v1h-1z M449,226h1v1h-1z M453,226h1v1h-1z M469,169h1v1h-1z M473,172h1v1h-1z M479,169h1v1h-1z M483,180h1v1h-1z M484,180h1v1h-1z M488,192h1v1h-1z M509,159h1v1h-1z M513,173h1v1h-1z M514,173h1v1h-1z M518,178h1v1h-1z M519,165h1v1h-1z M523,192h1v1h-1z M524,192h1v1h-1z M528,199h1v1h-1z M529,200h1v1h-1z M533,246h1v1h-1z M534,236h1v1h-1z M538,239h1v1h-1z M539,246h1v1h-1z M543,255h1v1h-1z M544,255h1v1h-1z M548,260h1v1h-1z M554,234h1v1h-1z M558,235h1v1h-1z M559,235h1v1h-1z M563,270h1v1h-1z M569,255h1v1h-1z M573,279h1v1h-1z M589,236h1v1h-1z M593,255h1v1h-1z M604,241h1v1h-1z M608,248h1v1h-1z M609,248h1v1h-1z M613,248h1v1h-1z M629,227h1v1h-1z M633,255h1v1h-1z M634,255h1v1h-1z M638,256h1v1h-1z M639,255h1v1h-1z M643,268h1v1h-1z M654,240h1v1h-1z M658,263h1v1h-1z M659,263h1v1h-1z M663,272h1v1h-1z M664,292h1v1h-1z M668,292h1v1h-1z M669,300h1v1h-1z M673,316h1v1h-1z M679,287h1v1h-1z M683,299h1v1h-1z M684,300h1v1h-1z M688,302h1v1h-1z M694,308h1v1h-1z M698,310h1v1h-1z M699,311h1v1h-1z M703,320h1v1h-1z M704,312h1v1h-1z M708,350h1v1h-1z M714,350h1v1h-1z M718,370h1v1h-1z M729,309h1v1h-1z M733,313h1v1h-1z M734,317h1v1h-1z M738,320h1v1h-1z M739,321h1v1h-1z M743,328h1v1h-1z M759,314h1v1h-1z M763,322h1v1h-1z M764,310h1v1h-1z M768,322h1v1h-1z M769,322h1v1h-1z M773,364h1v1h-1z M779,365h1v1h-1z M783,370h1v1h-1z M799,350h1v1h-1z M803,370h1v1h-1z M804,370h1v1h-1z M808,374h1v1h-1z M824,338h1v1h-1z M828,352h1v1h-1z M849,330h1v1h-1z M853,335h1v1h-1z M859,330h1v1h-1z M863,330h1v1h-1z M869,335h1v1h-1z M873,339h1v1h-1z M879,329h1v1h-1z M883,347h1v1h-1z M889,334h1v1h-1z M893,365h1v1h-1z M894,365h1v1h-1z M898,379h1v1h-1z M899,379h1v1h-1z M903,407h1v1h-1z M909,384h1v1h-1z M913,387h1v1h-1z M924,355h1v1h-1z M928,365h1v1h-1z M929,365h1v1h-1z M933,402h1v1h-1z M944,361h1v1h-1z M948,377h1v1h-1z M949,378h1v1h-1z M953,378h1v1h-1z M954,378h1v1h-1z M958,381h1v1h-1z M959,382h1v1h-1z M963,413h1v1h-1z M969,364h1v1h-1z M973,379h1v1h-1z M984,381h1v1h-1z M988,386h1v1h-1z M989,386h1v1h-1z M993,430h1v1h-1z M994,430h1v1h-1z M998,446h1v1h-1z M1009,426h1v1h-1z M1013,437h1v1h-1z M1019,368h1v1h-1z M1023,400h1v1h-1z M1039,378h1v1h-1z M1043,387h1v1h-1z M1054,379h1v1h-1z M1058,396h1v1h-1z M1064,382h1v1h-1z M1068,382h1v1h-1z M1074,382h1v1h-1z M1078,412h1v1h-1z M1089,391h1v1h-1z M1093,404h1v1h-1z M1094,386h1v1h-1z M1098,404h1v1h-1z M1099,388h1v1h-1z M1103,407h1v1h-1z M1114,364h1v1h-1z M1118,382h1v1h-1z M1124,376h1v1h-1z M1128,410h1v1h-1z M1134,391h1v1h-1z M1138,407h1v1h-1z M1164,322h1v1h-1z M1168,324h1v1h-1z M1174,311h1v1h-1z M1178,313h1v1h-1z M1189,237h1v1h-1z M1193,261h1v1h-1z M1194,261h1v1h-1z M1198,270h1v1h-1z M1204,254h1v1h-1z M1208,258h1v1h-1z M1214,268h1v1h-1z M1218,289h1v1h-1z M1219,289h1v1h-1z M1223,286h1v1h-1z M1229,302h1v1h-1z M1233,304h1v1h-1z M1244,272h1v1h-1z M1248,272h1v1h-1z M1259,266h1v1h-1z M1263,280h1v1h-1z M1269,264h1v1h-1z M1273,265h1v1h-1z M1274,275h1v1h-1z M1278,286h1v1h-1z M1284,283h1v1h-1z M1288,284h1v1h-1z M1299,274h1v1h-1z M1303,292h1v1h-1z M1304,293h1v1h-1z M1308,294h1v1h-1z M1309,294h1v1h-1z M1313,302h1v1h-1z M1329,296h1v1h-1z M1333,300h1v1h-1z M1334,300h1v1h-1z M1338,322h1v1h-1z M1339,322h1v1h-1z M1343,336h1v1h-1z M1349,280h1v1h-1z M1353,286h1v1h-1z M1354,286h1v1h-1z M1358,302h1v1h-1z M1359,294h1v1h-1z M1363,294h1v1h-1z M1369,284h1v1h-1z M1373,301h1v1h-1z M1374,288h1v1h-1z M1378,315h1v1h-1z M1399,269h1v1h-1z M1403,276h1v1h-1z M1409,272h1v1h-1z M1413,277h1v1h-1z M1419,201h1v1h-1z M1423,232h1v1h-1z M1424,221h1v1h-1z M1428,222h1v1h-1z M1429,222h1v1h-1z M1433,230h1v1h-1z M1434,230h1v1h-1z M1438,254h1v1h-1z M1449,228h1v1h-1z M1453,228h1v1h-1z M1454,237h1v1h-1z M1458,244h1v1h-1z M1469,218h1v1h-1z M1473,232h1v1h-1z M1484,221h1v1h-1z M1488,227h1v1h-1z M1494,211h1v1h-1z M1498,218h1v1h-1z M1499,218h1v1h-1z M1503,218h1v1h-1z M1504,218h1v1h-1z M1508,218h1v1h-1z M1509,222h1v1h-1z M1513,239h1v1h-1z M1519,222h1v1h-1z M1523,234h1v1h-1z M1524,233h1v1h-1z M1528,239h1v1h-1z M1534,220h1v1h-1z M1538,234h1v1h-1z M1539,224h1v1h-1z M1543,239h1v1h-1z M1549,225h1v1h-1z M1553,226h1v1h-1z M1579,197h1v1h-1z M1583,207h1v1h-1z M1584,191h1v1h-1z M1588,227h1v1h-1z M1594,222h1v1h-1z M1598,230h1v1h-1z M1604,219h1v1h-1z M1608,231h1v1h-1z M1614,209h1v1h-1z M1618,231h1v1h-1z M1619,225h1v1h-1z M1623,270h1v1h-1z M1629,269h1v1h-1z M1633,270h1v1h-1z M1634,270h1v1h-1z M1638,287h1v1h-1z M1649,266h1v1h-1z M1653,307h1v1h-1z M1659,294h1v1h-1z M1663,323h1v1h-1z M1664,326h1v1h-1z M1668,367h1v1h-1z M1684,333h1v1h-1z M1688,338h1v1h-1z M1709,317h1v1h-1z M1713,320h1v1h-1z"/>
<path shape-rendering="crispEdges" fill="#e01414" d="M5,651h3v8h-3z M15,637h3v22h-3z M20,624h3v35h-3z M35,639h3v20h-3z M40,651h3v8h-3z M45,628h3v31h-3z M55,641h3v18h-3z M75,652h3v7h-3z M80,654h3v5h-3z M85,651h3v8h-3z M95,630h3v29h-3z M120,622h3v37h-3z M130,644h3v15h-3z M135,637h3v22h-3z M140,636h3v23h-3z M150,650h3v9h-3z M155,657h3v2h-3z M160,643h3v16h-3z M165,653h3v6h-3z M185,630h3v29h-3z M205,653h3v6h-3z M220,652h3v7h-3z M230,651h3v8h-3z M240,563h3v96h-3z M260,657h3v2h-3z M265,649h3v10h-3z M270,654h3v5h-3z M295,644h3v15h-3z M300,615h3v44h-3z M335,653h3v6h-3z M350,654h3v5h-3z M360,655h3v4h-3z M375,657h3v2h-3z M380,623h3v36h-3z M385,658h3v1h-3z M410,649h3v10h-3z M425,652h3v7h-3z M430,657h3v2h-3z M440,657h3v2h-3z M450,657h3v2h-3z M470,627h3v32h-3z M480,655h3v4h-3z M485,657h3v2h-3z M510,658h3v1h-3z M515,657h3v2h-3z M520,655h3v4h-3z M525,622h3v37h-3z M530,657h3v2h-3z M535,654h3v5h-3z M540,640h3v19h-3z M545,636h3v23h-3z M555,658h3v1h-3z M560,655h3v4h-3z M570,656h3v3h-3z M590,655h3v4h-3z M605,658h3v1h-3z M610,658h3v1h-3z M630,654h3v5h-3z M635,654h3v5h-3z M640,655h3v4h-3z M655,656h3v3h-3z M660,640h3v19h-3z M665,636h3v23h-3z M670,656h3v3h-3z M680,656h3v3h-3z M685,655h3v4h-3z M695,656h3v3h-3z M700,658h3v1h-3z M705,621h3v38h-3z M715,655h3v4h-3z M730,648h3v11h-3z M735,655h3v4h-3z M740,655h3v4h-3z M760,655h3v4h-3z M765,658h3v1h-3z M770,642h3v17h-3z M780,655h3v4h-3z M800,654h3v5h-3z M805,652h3v7h-3z M825,657h3v2h-3z M850,657h3v2h-3z M860,626h3v33h-3z M870,635h3v24h-3z M880,653h3v6h-3z M890,649h3v10h-3z M895,653h3v6h-3z M900,640h3v19h-3z M910,657h3v2h-3z M925,656h3v3h-3z M930,634h3v25h-3z M945,655h3v4h-3z M950,649h3v10h-3z M955,654h3v5h-3z M960,653h3v6h-3z M970,656h3v3h-3z M985,652h3v7h-3z M990,638h3v21h-3z M995,643h3v16h-3z M1010,652h3v7h-3z M1020,644h3v15h-3z M1040,652h3v7h-3z M1055,654h3v5h-3z M1065,655h3v4h-3z M1075,654h3v5h-3z M1090,656h3v3h-3z M1095,656h3v3h-3z M1100,656h3v3h-3z M1115,652h3v7h-3z M1125,648h3v11h-3z M1135,657h3v2h-3z M1165,653h3v6h-3z M1175,653h3v6h-3z M1190,639h3v20h-3z M1195,633h3v26h-3z M1205,650h3v9h-3z M1215,623h3v36h-3z M1220,657h3v2h-3z M1230,655h3v4h-3z M1245,652h3v7h-3z M1260,650h3v9h-3z M1270,656h3v3h-3z M1275,653h3v6h-3z M1285,654h3v5h-3z M1300,643h3v16h-3z M1305,647h3v12h-3z M1310,639h3v20h-3z M1330,653h3v6h-3z M1335,654h3v5h-3z M1340,650h3v9h-3z M1350,655h3v4h-3z M1355,656h3v3h-3z M1360,658h3v1h-3z M1370,657h3v2h-3z M1375,647h3v12h-3z M1400,655h3v4h-3z M1410,654h3v5h-3z M1420,642h3v17h-3z M1425,653h3v6h-3z M1430,644h3v15h-3z M1435,619h3v40h-3z M1450,656h3v3h-3z M1455,658h3v1h-3z M1470,647h3v12h-3z M1485,646h3v13h-3z M1495,658h3v1h-3z M1500,658h3v1h-3z M1505,657h3v2h-3z M1510,656h3v3h-3z M1520,658h3v1h-3z M1525,657h3v2h-3z M1535,654h3v5h-3z M1540,658h3v1h-3z M1550,657h3v2h-3z M1580,654h3v5h-3z M1585,647h3v12h-3z M1595,658h3v1h-3z M1605,658h3v1h-3z M1615,658h3v1h-3z M1620,634h3v25h-3z M1630,650h3v9h-3z M1635,653h3v6h-3z M1650,630h3v29h-3z M1660,633h3v26h-3z M1665,597h3v62h-3z M1685,654h3v5h-3z M1710,651h3v8h-3z M1715,659h3v1h-3z"/>
<path shape-rendering="crispEdges" fill="#2a9f2a" fill-rule="evenodd" d="M0,641h3v18h-3z M1,642v16h1v-16z M10,650h3v9h-3z M11,651v7h1v-7z M25,602h3v57h-3z M26,603v55h1v-55z M30,641h3v18h-3z M31,642v16h1v-16z M50,644h3v15h-3z M51,645v13h1v-13z M60,636h3v23h-3z M61,637v21h1v-21z M65,646h3v13h-3z M66,647v11h1v-11z M70,632h3v27h-3z M71,633v25h1v-25z M90,651h3v8h-3z M91,652v6h1v-6z M100,636h3v23h-3z M101,637v21h1v-21z M105,653h3v6h-3z M106,654v4h1v-4z M110,644h3v15h-3z M111,645v13h1v-13z M115,620h3v39h-3z M116,621v37h1v-37z M125,646h3v13h-3z M126,647v11h1v-11z M145,657h3v2h-3z M170,653h3v6h-3z M171,654v4h1v-4z M175,621h3v38h-3z M176,622v36h1v-36z M180,653h3v6h-3z M181,654v4h1v-4z M190,653h3v6h-3z M191,654v4h1v-4z M195,637h3v22h-3z M196,638v20h1v-20z M200,645h3v14h-3z M201,646v12h1v-12z M210,653h3v6h-3z M211,654v4h1v-4z M215,653h3v6h-3z M216,654v4h1v-4z M225,653h3v6h-3z M226,654v4h1v-4z M235,653h3v6h-3z M236,654v4h1v-4z M245,638h3v21h-3z M246,639v19h1v-19z M250,626h3v33h-3z M251,627v31h1v-31z M255,653h3v6h-3z M256,654v4h1v-4z M275,648h3v11h-3z M276,649v9h1v-9z M280,657h3v2h-3z M285,657h3v2h-3z M290,657h3v2h-3z M305,649h3v10h-3z M306,650v8h1v-8z M310,643h3v16h-3z M311,644v14h1v-14z M315,641h3v18h-3z M316,642v16h1v-16z M320,653h3v6h-3z M321,654v4h1v-4z M325,649h3v10h-3z M326,650v8h1v-8z M330,651h3v8h-3z M331,652v6h1v-6z M340,645h3v14h-3z M341,646v12h1v-12z M345,644h3v15h-3z M346,645v13h1v-13z M355,635h3v24h-3z M356,636v22h1v-22z M365,657h3v2h-3z M370,651h3v8h-3z M371,652v6h1v-6z M390,643h3v16h-3z M391,644v14h1v-14z M395,651h3v8h-3z M396,652v6h1v-6z M400,650h3v9h-3z M401,651v7h1v-7z M405,653h3v6h-3z M406,654v4h1v-4z M415,654h3v5h-3z M416,655v3h1v-3z M420,642h3v17h-3z M421,643v15h1v-15z M435,655h3v4h-3z M436,656v2h1v-2z M445,657h3v2h-3z M455,647h3v12h-3z M456,648v10h1v-10z M460,633h3v26h-3z M461,634v24h1v-24z M465,608h3v51h-3z M466,609v49h1v-49z M475,648h3v11h-3z M476,649v9h1v-9z M490,655h3v4h-3z M491,656v2h1v-2z M495,646h3v13h-3z M496,647v11h1v-11z M500,658h3v1h-3z M505,653h3v6h-3z M506,654v4h1v-4z M550,637h3v22h-3z M551,638v20h1v-20z M565,647h3v12h-3z M566,648v10h1v-10z M575,655h3v4h-3z M576,656v2h1v-2z M580,654h3v5h-3z M581,655v3h1v-3z M585,643h3v16h-3z M586,644v14h1v-14z M595,656h3v3h-3z M596,657v1h1v-1z M600,646h3v13h-3z M601,647v11h1v-11z M615,643h3v16h-3z M616,644v14h1v-14z M620,646h3v13h-3z M621,647v11h1v-11z M625,658h3v1h-3z M645,654h3v5h-3z M646,655v3h1v-3z M650,652h3v7h-3z M651,653v5h1v-5z M675,651h3v8h-3z M676,652v6h1v-6z M690,649h3v10h-3z M691,650v8h1v-8z M710,648h3v11h-3z M711,649v9h1v-9z M720,651h3v8h-3z M721,652v6h1v-6z M725,649h3v10h-3z M726,650v8h1v-8z M745,658h3v1h-3z M750,658h3v1h-3z M755,658h3v1h-3z M775,637h3v22h-3z M776,638v20h1v-20z M785,655h3v4h-3z M786,656v2h1v-2z M790,656h3v3h-3z M791,657v1h1v-1z M795,653h3v6h-3z M796,654v4h1v-4z M810,657h3v2h-3z M815,656h3v3h-3z M816,657v1h1v-1z M820,655h3v4h-3z M821,656v2h1v-2z M830,656h3v3h-3z M831,657v1h1v-1z M835,656h3v3h-3z M836,657v1h1v-1z M840,657h3v2h-3z M845,656h3v3h-3z M846,657v1h1v-1z M855,655h3v4h-3z M856,656v2h1v-2z M865,658h3v1h-3z M875,633h3v26h-3z M876,634v24h1v-24z M885,657h3v2h-3z M905,656h3v3h-3z M906,657v1h1v-1z M915,655h3v4h-3z M916,656v2h1v-2z M920,654h3v5h-3z M921,655v3h1v-3z M935,656h3v3h-3z M936,657v1h1v-1z M940,631h3v28h-3z M941,632v26h1v-26z M965,651h3v8h-3z M966,652v6h1v-6z M975,651h3v8h-3z M976,652v6h1v-6z M980,655h3v4h-3z M981,656v2h1v-2z M1000,647h3v12h-3z M1001,648v10h1v-10z M1005,643h3v16h-3z M1006,644v14h1v-14z M1015,630h3v29h-3z M1016,631v27h1v-27z M1025,652h3v7h-3z M1026,653v5h1v-5z M1030,647h3v12h-3z M1031,648v10h1v-10z M1035,651h3v8h-3z M1036,652v6h1v-6z M1045,652h3v7h-3z M1046,653v5h1v-5z M1050,655h3v4h-3z M1051,656v2h1v-2z M1060,654h3v5h-3z M1061,655v3h1v-3z M1070,654h3v5h-3z M1071,655v3h1v-3z M1080,653h3v6h-3z M1081,654v4h1v-4z M1085,654h3v5h-3z M1086,655v3h1v-3z M1105,652h3v7h-3z M1106,653v5h1v-5z M1110,656h3v3h-3z M1111,657v1h1v-1z M1120,655h3v4h-3z M1121,656v2h1v-2z M1130,654h3v5h-3z M1131,655v3h1v-3z M1140,649h3v10h-3z M1141,650v8h1v-8z M1145,644h3v15h-3z M1146,645v13h1v-13z M1150,624h3v35h-3z M1151,625v33h1v-33z M1155,635h3v24h-3z M1156,636v22h1v-22z M1160,640h3v19h-3z M1161,641v17h1v-17z M1170,642h3v17h-3z M1171,643v15h1v-15z M1180,647h3v12h-3z M1181,648v10h1v-10z M1185,599h3v60h-3z M1186,600v58h1v-58z M1200,654h3v5h-3z M1201,655v3h1v-3z M1210,648h3v11h-3z M1211,649v9h1v-9z M1225,656h3v3h-3z M1226,657v1h1v-1z M1235,652h3v7h-3z M1236,653v5h1v-5z M1240,650h3v9h-3z M1241,651v7h1v-7z M1250,658h3v1h-3z M1255,653h3v6h-3z M1256,654v4h1v-4z M1265,653h3v6h-3z M1266,654v4h1v-4z M1280,656h3v3h-3z M1281,657v1h1v-1z M1290,649h3v10h-3z M1291,650v8h1v-8z M1295,653h3v6h-3z M1296,654v4h1v-4z M1315,656h3v3h-3z M1316,657v1h1v-1z M1320,654h3v5h-3z M1321,655v3h1v-3z M1325,652h3v7h-3z M1326,653v5h1v-5z M1345,645h3v14h-3z M1346,646v12h1v-12z M1365,657h3v2h-3z M1380,656h3v3h-3z M1381,657v1h1v-1z M1385,653h3v6h-3z M1386,654v4h1v-4z M1390,656h3v3h-3z M1391,657v1h1v-1z M1395,655h3v4h-3z M1396,656v2h1v-2z M1405,651h3v8h-3z M1406,652v6h1v-6z M1415,602h3v57h-3z M1416,603v55h1v-55z M1440,654h3v5h-3z M1441,655v3h1v-3z M1445,657h3v2h-3z M1460,658h3v1h-3z M1465,654h3v5h-3z M1466,655v3h1v-3z M1475,658h3v1h-3z M1480,657h3v2h-3z M1490,654h3v5h-3z M1491,655v3h1v-3z M1515,656h3v3h-3z M1516,657v1h1v-1z M1530,655h3v4h-3z M1531,656v2h1v-2z M1545,656h3v3h-3z M1546,657v1h1v-1z M1555,656h3v3h-3z M1556,657v1h1v-1z M1560,656h3v3h-3z M1561,657v1h1v-1z M1565,655h3v4h-3z M1566,656v2h1v-2z M1570,650h3v9h-3z M1571,651v7h1v-7z M1575,640h3v19h-3z M1576,641v17h1v-17z M1590,658h3v1h-3z M1600,654h3v5h-3z M1601,655v3h1v-3z M1610,656h3v3h-3z M1611,657v1h1v-1z M1625,654h3v5h-3z M1626,655v3h1v-3z M1640,658h3v1h-3z M1645,658h3v1h-3z M1655,651h3v8h-3z M1656,652v6h1v-6z M1670,652h3v7h-3z M1671,653v5h1v-5z M1675,649h3v10h-3z M1676,650v8h1v-8z M1680,656h3v3h-3z M1681,657v1h1v-1z M1690,655h3v4h-3z M1691,656v2h1v-2z M1695,653h3v6h-3z M1696,654v4h1v-4z M1700,654h3v5h-3z M1701,655v3h1v-3z M1705,655h3v4h-3z M1706,656v2h1v-2z"/>
<circle cx="1.5" cy="319.7" r="3.0" fill="rgb(208,105,5)" fill-opacity="0.7"/>
<circle cx="121.5" cy="253.3" r="9.1" fill="rgb(208,105,5)" fill-opacity="0.7"/>
<circle cx="241.5" cy="304.4" r="9.1" fill="rgb(208,105,5)" fill-opacity="0.7"/>
<circle cx="361.5" cy="261.6" r="9.5" fill="rgb(208,105,5)" fill-opacity="0.7"/>
<circle cx="481.5" cy="166.5" r="9.5" fill="rgb(208,105,5)" fill-opacity="0.7"/>
<circle cx="601.5" cy="239.6" r="9.2" fill="rgb(208,105,5)" fill-opacity="0.7"/>
<circle cx="721.5" cy="370.6" r="3.3" fill="rgb(208,105,5)" fill-opacity="0.7"/>
<circle cx="841.5" cy="334.3" r="9.9" fill="rgb(208,105,5)" fill-opacity="0.7"/>
<circle cx="961.5" cy="392.5" r="8.7" fill="rgb(208,105,5)" fill-opacity="0.7"/>
<circle cx="1081.5" cy="399.5" r="10.5" fill="rgb(208,105,5)" fill-opacity="0.7"/>
<circle cx="1201.5" cy="268.4" r="9.6" fill="rgb(208,105,5)" fill-opacity="0.7"/>
<circle cx="1321.5" cy="304.5" r="9.7" fill="rgb(208,105,5)" fill-opacity="0.7"/>
<circle cx="1441.5" cy="239.5" r="3.0" fill="rgb(208,105,5)" fill-opacity="0.7"/>
<circle cx="1561.5" cy="224.3" r="9.8" fill="rgb(208,105,5)" fill-opacity="0.7"/>
<circle cx="1681.5" cy="334.5" r="4.6" fill="rgb(208,105,5)" fill-opacity="0.7"/>
<rect x="-7.5" y="84.5" width="18" height="18" fill="none" stroke="#465acd" stroke-width="1.2"/>
<rect x="232.5" y="288.6" width="18" height="18" fill="none" stroke="#465acd" stroke-width="1.2"/>
<rect x="352.5" y="317.5" width="18" height="18" fill="none" stroke="#465acd" stroke-width="1.2"/>
<rect x="472.5" y="237.5" width="18" height="18" fill="none" stroke="#465acd" stroke-width="1.2"/>
<rect x="592.5" y="157.5" width="18" height="18" fill="none" stroke="#465acd" stroke-width="1.2"/>
<rect x="712.5" y="230.5" width="18" height="18" fill="none" stroke="#465acd" stroke-width="1.2"/>
<rect x="832.5" y="405.5" width="18" height="18" fill="none" stroke="#465acd" stroke-width="1.2"/>
<rect x="952.5" y="354.5" width="18" height="18" fill="none" stroke="#465acd" stroke-width="1.2"/>
<rect x="1072.5" y="405.2" width="18" height="18" fill="none" stroke="#465acd" stroke-width="1.2"/>
<rect x="1192.5" y="383.5" width="18" height="18" fill="none" stroke="#465acd" stroke-width="1.2"/>
<rect x="1312.5" y="164.3" width="18" height="18" fill="none" stroke="#465acd" stroke-width="1.2"/>
<rect x="1432.5" y="310.6" width="18" height="18" fill="none" stroke="#465acd" stroke-width="1.2"/>
<rect x="1552.5" y="310.5" width="18" height="18" fill="none" stroke="#465acd" stroke-width="1.2"/>
<rect x="1672.5" y="193.5" width="18" height="18" fill="none" stroke="#0f5fff" stroke-width="3"/>
<text x="488.8" y="134" font-size="12" font-family="'Liberation Mono', monospace" fill="#333" letter-spacing="-0.2">465.88</text>
<path d="M480.5,130.5 H475 M477,128.5 L475,130.5 L477,132.5" stroke="#666" stroke-width="1" fill="none"/>
<text x="947.6" y="466" font-size="12" font-family="'Liberation Mono', monospace" fill="#333" letter-spacing="-0.2">420.27</text>
<path d="M996,462.5 H1001.5 M999.5,460.5 L1001.5,462.5 L999.5,464.5" stroke="#666" stroke-width="1" fill="none"/>
<rect x="1565" y="97" width="63" height="25" rx="10" fill="#6ecb8c"/>
<rect x="1596" y="121" width="1" height="48" fill="#6ecb8c"/>
<circle cx="1596.5" cy="169.5" r="2.7" fill="#6ecb8c"/>
<text x="1597.6" y="114" font-size="13" font-family="'Liberation Mono', monospace" fill="#111" font-weight="bold" stroke="#111" stroke-width="0.3" letter-spacing="2.2" text-anchor="middle">02:04</text>
<text x="147.8" y="679" font-size="12" font-family="'Liberation Mono', monospace" fill="#555" letter-spacing="-0.2" text-anchor="middle">Apr 29</text>
<rect x="146" y="668" width="1" height="5" fill="#dddddd"/>
<text x="267.8" y="679" font-size="12" font-family="'Liberation Mono', monospace" fill="#555" letter-spacing="-0.2" text-anchor="middle">Apr 30</text>
<rect x="266" y="668" width="1" height="5" fill="#dddddd"/>
<text x="387.8" y="679" font-size="12" font-family="'Liberation Mono', monospace" fill="#555" letter-spacing="-0.2" text-anchor="middle">May 1</text>
<rect x="386" y="668" width="1" height="5" fill="#dddddd"/>
<text x="507.8" y="679" font-size="12" font-family="'Liberation Mono', monospace" fill="#555" letter-spacing="-0.2" text-anchor="middle">May 2</text>
<rect x="506" y="668" width="1" height="5" fill="#dddddd"/>
<text x="627.8" y="679" font-size="12" font-family="'Liberation Mono', monospace" fill="#555" letter-spacing="-0.2" text-anchor="middle">May 3</text>
<rect x="626" y="668" width="1" height="5" fill="#dddddd"/>
<text x="747.8" y="679" font-size="12" font-family="'Liberation Mono', monospace" fill="#555" letter-spacing="-0.2" text-anchor="middle">May 4</text>
<rect x="746" y="668" width="1" height="5" fill="#dddddd"/>
<text x="867.8" y="679" font-size="12" font-family="'Liberation Mono', monospace" fill="#555" letter-spacing="-0.2" text-anchor="middle">May 5</text>
<rect x="866" y="668" width="1" height="5" fill="#dddddd"/>
<text x="987.8" y="679" font-size="12" font-family="'Liberation Mono', monospace" fill="#555" letter-spacing="-0.2" text-anchor="middle">May 6</text>
<rect x="986" y="668" width="1" height="5" fill="#dddddd"/>
<text x="1107.8" y="679" font-size="12" font-family="'Liberation Mono', monospace" fill="#555" letter-spacing="-0.2" text-anchor="middle">May 7</text>
<rect x="1106" y="668" width="1" height="5" fill="#dddddd"/>
<text x="1227.8" y="679" font-size="12" font-family="'Liberation Mono', monospace" fill="#555" letter-spacing="-0.2" text-anchor="middle">May 8</text>
<rect x="1226" y="668" width="1" height="5" fill="#dddddd"/>
<text x="1347.8" y="679" font-size="12" font-family="'Liberation Mono', monospace" fill="#555" letter-spacing="-0.2" text-anchor="middle">May 9</text>
<rect x="1346" y="668" width="1" height="5" fill="#dddddd"/>
<text x="1467.8" y="679" font-size="12" font-family="'Liberation Mono', monospace" fill="#555" letter-spacing="-0.2" text-anchor="middle">May 10</text>
<rect x="1466" y="668" width="1" height="5" fill="#dddddd"/>
<text x="1587.8" y="679" font-size="12" font-family="'Liberation Mono', monospace" fill="#555" letter-spacing="-0.2" text-anchor="middle">May 11</text>
<rect x="1586" y="668" width="1" height="5" fill="#dddddd"/>
<text x="1707.8" y="679" font-size="12" font-family="'Liberation Mono', monospace" fill="#555" letter-spacing="-0.2" text-anchor="middle">May 12</text>
<rect x="1706" y="668" width="1" height="5" fill="#dddddd"/>
<text x="1827.8" y="679" font-size="12" font-family="'Liberation Mono', monospace" fill="#555" letter-spacing="-0.2" text-anchor="middle">May 13</text>
<rect x="1826" y="668" width="1" height="5" fill="#dddddd"/>
<rect x="1826" y="60" width="99" height="624" fill="#ffffff" fill-opacity="0.82"/>
<rect x="1826" y="554" width="99" height="1" fill="#cccccc"/>
<rect x="1826" y="667" width="99" height="1" fill="#cccccc"/>
<rect x="1825" y="101" width="6" height="1" fill="#c4c4c4"/>
<rect x="1919" y="101" width="6" height="1" fill="#c4c4c4"/>
<text x="1876.2" y="105" font-size="12" font-family="'Liberation Mono', monospace" fill="#666" letter-spacing="-0.2" text-anchor="middle">470</text>
<rect x="1825" y="137" width="6" height="1" fill="#c4c4c4"/>
<rect x="1919" y="137" width="6" height="1" fill="#c4c4c4"/>
<text x="1876.2" y="141" font-size="12" font-family="'Liberation Mono', monospace" fill="#666" letter-spacing="-0.2" text-anchor="middle">465</text>
<rect x="1825" y="174" width="6" height="1" fill="#c4c4c4"/>
<rect x="1919" y="174" width="6" height="1" fill="#c4c4c4"/>
<text x="1876.2" y="178" font-size="12" font-family="'Liberation Mono', monospace" fill="#666" letter-spacing="-0.2" text-anchor="middle">460</text>
<rect x="1825" y="210" width="6" height="1" fill="#c4c4c4"/>
<rect x="1919" y="210" width="6" height="1" fill="#c4c4c4"/>
<text x="1876.2" y="214" font-size="12" font-family="'Liberation Mono', monospace" fill="#666" letter-spacing="-0.2" text-anchor="middle">455</text>
<rect x="1825" y="247" width="6" height="1" fill="#c4c4c4"/>
<rect x="1919" y="247" width="6" height="1" fill="#c4c4c4"/>
<text x="1876.2" y="251" font-size="12" font-family="'Liberation Mono', monospace" fill="#666" letter-spacing="-0.2" text-anchor="middle">450</text>
<rect x="1825" y="283" width="6" height="1" fill="#c4c4c4"/>
<rect x="1919" y="283" width="6" height="1" fill="#c4c4c4"/>
<text x="1876.2" y="287" font-size="12" font-family="'Liberation Mono', monospace" fill="#666" letter-spacing="-0.2" text-anchor="middle">445</text>
<rect x="1825" y="319" width="6" height="1" fill="#c4c4c4"/>
<rect x="1919" y="319" width="6" height="1" fill="#c4c4c4"/>
<text x="1876.2" y="323" font-size="12" font-family="'Liberation Mono', monospace" fill="#666" letter-spacing="-0.2" text-anchor="middle">440</text>
<rect x="1825" y="356" width="6" height="1" fill="#c4c4c4"/>
<rect x="1919" y="356" width="6" height="1" fill="#c4c4c4"/>
<text x="1876.2" y="360" font-size="12" font-family="'Liberation Mono', monospace" fill="#666" letter-spacing="-0.2" text-anchor="middle">435</text>
<rect x="1825" y="392" width="6" height="1" fill="#c4c4c4"/>
<rect x="1919" y="392" width="6" height="1" fill="#c4c4c4"/>
<text x="1876.2" y="396" font-size="12" font-family="'Liberation Mono', monospace" fill="#666" letter-spacing="-0.2" text-anchor="middle">430</text>
<rect x="1825" y="429" width="6" height="1" fill="#c4c4c4"/>
<rect x="1919" y="429" width="6" height="1" fill="#c4c4c4"/>
<text x="1876.2" y="433" font-size="12" font-family="'Liberation Mono', monospace" fill="#666" letter-spacing="-0.2" text-anchor="middle">425</text>
<rect x="1825" y="465" width="6" height="1" fill="#c4c4c4"/>
<rect x="1919" y="465" width="6" height="1" fill="#c4c4c4"/>
<text x="1876.2" y="469" font-size="12" font-family="'Liberation Mono', monospace" fill="#666" letter-spacing="-0.2" text-anchor="middle">420</text>
<rect x="1825" y="501" width="6" height="1" fill="#c4c4c4"/>
<rect x="1919" y="501" width="6" height="1" fill="#c4c4c4"/>
<text x="1876.2" y="505" font-size="12" font-family="'Liberation Mono', monospace" fill="#666" letter-spacing="-0.2" text-anchor="middle">415</text>
<rect x="1825" y="538" width="6" height="1" fill="#c4c4c4"/>
<rect x="1919" y="538" width="6" height="1" fill="#c4c4c4"/>
<text x="1876.2" y="542" font-size="12" font-family="'Liberation Mono', monospace" fill="#666" letter-spacing="-0.2" text-anchor="middle">410</text>
<rect x="1825" y="606" width="6" height="1" fill="#c4c4c4"/>
<rect x="1919" y="606" width="6" height="1" fill="#c4c4c4"/>
<text x="1875.5" y="609" font-size="12" font-family="'Liberation Mono', monospace" fill="#666" letter-spacing="-0.2" text-anchor="middle">2000</text>
<rect x="1825" y="659" width="6" height="1" fill="#c4c4c4"/>
<rect x="1919" y="659" width="6" height="1" fill="#c4c4c4"/>
<text x="1876.2" y="663" font-size="12" font-family="'Liberation Mono', monospace" fill="#666" letter-spacing="-0.2" text-anchor="middle">0</text>
<text x="1875.2" y="679" font-size="10" font-family="'Liberation Mono', monospace" fill="#333" letter-spacing="0.3" text-anchor="middle">Now</text>
</svg>
</body></html>
